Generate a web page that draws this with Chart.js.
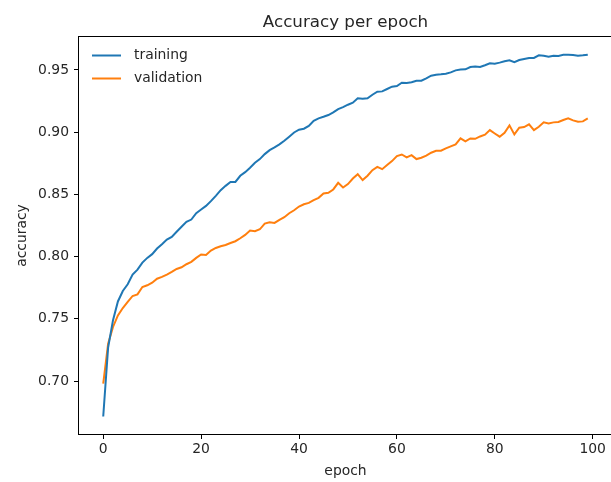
<!DOCTYPE html>
<html>
<head>
<meta charset="utf-8">
<title>Accuracy per epoch</title>
<script src="https://cdn.jsdelivr.net/npm/chart.js@4/dist/chart.umd.min.js"></script>
<style>
  html, body { margin: 0; padding: 0; background: #fff; overflow: hidden; }
  #wrap { width: 611px; height: 482px; overflow: hidden; }
</style>
</head>
<body>
<div id="wrap"><canvas id="acc" width="615" height="482"></canvas></div>
<script>
// accuracy history, one value per epoch
var training = [
  0.6716, 0.727, 0.749, 0.764, 0.7724, 0.7778, 0.7856, 0.7896, 0.7952, 0.799,
  0.802, 0.8065, 0.810, 0.8137, 0.8159, 0.820, 0.824, 0.828, 0.8298, 0.835,
  0.8379, 0.8408, 0.8446, 0.8489, 0.8534, 0.8569, 0.860, 0.860, 0.865, 0.8679,
  0.8714, 0.8754, 0.8784, 0.8824, 0.8856, 0.8878, 0.8902, 0.8931, 0.8964, 0.8998,
  0.902, 0.9028, 0.905, 0.9092, 0.9111, 0.9124, 0.9138, 0.9159, 0.9186, 0.9202,
  0.9221, 0.9237, 0.9272, 0.9269, 0.9272, 0.9301, 0.9326, 0.9328, 0.9347, 0.9366,
  0.9371, 0.9398, 0.9395, 0.9401, 0.9414, 0.9414, 0.9433, 0.9454, 0.9462, 0.9465,
  0.947, 0.9481, 0.9497, 0.9503, 0.9505, 0.9524, 0.9527, 0.9524, 0.9538, 0.9554,
  0.9551, 0.9559, 0.957, 0.9578, 0.9562, 0.958, 0.9589, 0.9597, 0.9597, 0.9618,
  0.9615, 0.9607, 0.9615, 0.9613, 0.9623, 0.9623, 0.9621, 0.9615, 0.9618, 0.9623
];
var validation = [
  0.6979, 0.730, 0.7435, 0.7528, 0.7587, 0.7636, 0.7684, 0.7697, 0.7756, 0.777,
  0.7791, 0.7823, 0.7837, 0.7856, 0.7877, 0.7901, 0.7915, 0.7939, 0.7958, 0.799,
  0.8017, 0.8014, 0.8049, 0.807, 0.8084, 0.8094, 0.811, 0.8124, 0.8148, 0.8175,
  0.821, 0.8204, 0.822, 0.8266, 0.8277, 0.8271, 0.8296, 0.8317, 0.8349, 0.8373,
  0.8403, 0.8421, 0.8432, 0.8454, 0.8473, 0.8508, 0.8513, 0.854, 0.8593, 0.8556,
  0.8583, 0.8628, 0.8663, 0.8615, 0.865, 0.8695, 0.8722, 0.8703, 0.8736, 0.8768,
  0.8808, 0.8821, 0.8797, 0.8816, 0.8784, 0.8795, 0.8811, 0.8835, 0.8851, 0.8851,
  0.887, 0.8886, 0.8902, 0.895, 0.8926, 0.895, 0.8947, 0.8966, 0.898, 0.9017,
  0.899, 0.8964, 0.8996, 0.9055, 0.8982, 0.9036, 0.9041, 0.9063, 0.9017, 0.9044,
  0.9079, 0.9071, 0.9079, 0.9082, 0.9098, 0.9111, 0.9095, 0.9084, 0.9087, 0.9111
];
var xTicks = [0, 20, 40, 60, 80, 100];
var yTicks = [0.70, 0.75, 0.80, 0.85, 0.90, 0.95];

var FONT = '"DejaVu Sans", sans-serif';
var TEXT = '#262626';

function points(arr) {
  return arr.map(function (v, i) { return { x: i, y: v }; });
}

// frame, title, axis labels and legend, drawn matplotlib-style
var decorations = {
  id: 'decorations',
  afterDraw: function (chart) {
    var ctx = chart.ctx, a = chart.chartArea;
    ctx.save();
    ctx.strokeStyle = '#000';
    ctx.lineWidth = 1;
    ctx.strokeRect(Math.round(a.left) - 0.5, Math.round(a.top) - 0.5,
                   Math.round(a.right - a.left) + 1, Math.round(a.bottom - a.top) + 1);

    var cx = (a.left + a.right) / 2;
    ctx.fillStyle = TEXT;
    ctx.textAlign = 'center';
    ctx.textBaseline = 'alphabetic';
    ctx.font = '16.7px ' + FONT;
    ctx.fillText('Accuracy per epoch', cx, 27);

    ctx.font = '13.9px ' + FONT;
    ctx.fillText('epoch', cx, 475);

    ctx.save();
    ctx.translate(26, (a.top + a.bottom) / 2);
    ctx.rotate(-Math.PI / 2);
    ctx.fillText('accuracy', 0, 0);
    ctx.restore();

    // legend
    var items = chart.data.datasets;
    ctx.textAlign = 'left';
    ctx.textBaseline = 'middle';
    items.forEach(function (ds, i) {
      var y = 55.5 + i * 23;
      ctx.strokeStyle = ds.borderColor;
      ctx.lineWidth = 2;
      ctx.beginPath();
      ctx.moveTo(92, y);
      ctx.lineTo(121, y);
      ctx.stroke();
      ctx.fillStyle = TEXT;
      ctx.fillText(ds.label, 134, y);
    });
    ctx.restore();
  }
};

new Chart(document.getElementById('acc'), {
  type: 'line',
  data: {
    datasets: [
      { label: 'training', data: points(training), borderColor: '#1f77b4',
        borderWidth: 2, pointRadius: 0, tension: 0, fill: false },
      { label: 'validation', data: points(validation), borderColor: '#ff7f0e',
        borderWidth: 2, pointRadius: 0, tension: 0, fill: false }
    ]
  },
  options: {
    responsive: false,
    animation: false,
    devicePixelRatio: 1,
    layout: { padding: { top: 37, right: 3, bottom: 0, left: 0 } },
    plugins: { legend: { display: false }, title: { display: false }, tooltip: { enabled: false } },
    scales: {
      x: {
        type: 'linear',
        min: -4.95,
        max: 103.95,
        afterBuildTicks: function (s) { s.ticks = xTicks.map(function (v) { return { value: v }; }); },
        afterFit: function (s) { s.height = 48; },
        border: { display: false },
        grid: { drawOnChartArea: false, drawTicks: true, tickLength: 5, tickColor: '#000', tickWidth: 1 },
        ticks: { color: TEXT, font: { family: FONT, size: 13.9 }, padding: 2, maxRotation: 0,
                 callback: function (v) { return String(v); } }
      },
      y: {
        type: 'linear',
        min: 0.6575,
        max: 0.9765,
        afterBuildTicks: function (s) { s.ticks = yTicks.map(function (v) { return { value: v }; }); },
        afterFit: function (s) { s.width = 79; },
        border: { display: false },
        grid: { drawOnChartArea: false, drawTicks: true, tickLength: 5, tickColor: '#000', tickWidth: 1 },
        ticks: { color: TEXT, font: { family: FONT, size: 13.9 }, padding: 5,
                 callback: function (v) { return v.toFixed(2); } }
      }
    }
  },
  plugins: [decorations]
});
</script>
</body>
</html>
